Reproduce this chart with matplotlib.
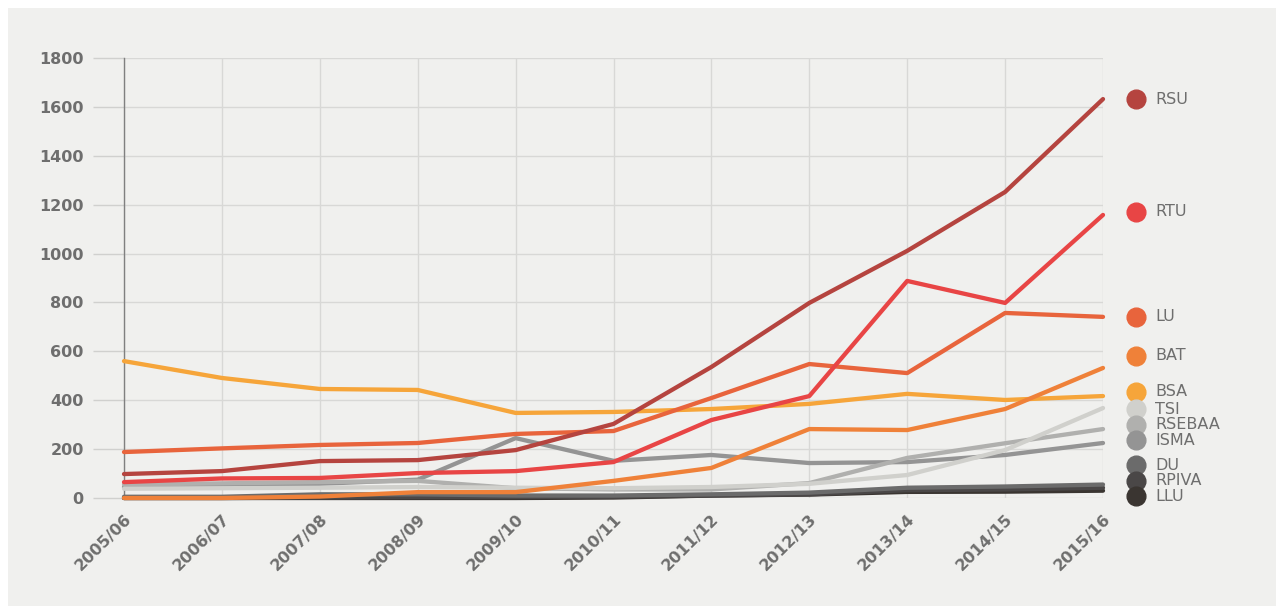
import matplotlib
matplotlib.use("Agg")
import matplotlib.pyplot as plt
from matplotlib.transforms import ScaledTranslation

years = ["2005/06", "2006/07", "2007/08", "2008/09", "2009/10", "2010/11",
         "2011/12", "2012/13", "2013/14", "2014/15", "2015/16"]

rsu    = [98, 110, 151, 155, 196, 303, 536, 798, 1011, 1252, 1632]
rtu    = [65, 80, 82, 102, 110, 147, 319, 417, 888, 798, 1158]
lu     = [188, 203, 217, 225, 262, 274, 409, 548, 511, 757, 741]
bat    = [0, 0, 6, 24, 24, 70, 123, 282, 278, 364, 532]
bsa    = [560, 491, 446, 442, 348, 352, 364, 385, 426, 401, 417]
tsi    = [38, 40, 42, 45, 42, 40, 45, 58, 94, 196, 368]
rsebaa = [55, 60, 65, 70, 40, 35, 35, 61, 164, 224, 282]
isma   = [45, 50, 58, 75, 245, 152, 176, 143, 147, 176, 225]
du     = [5, 5, 15, 15, 10, 10, 15, 22, 42, 47, 55]
rpiva  = [0, 0, 2, 4, 4, 5, 10, 15, 32, 35, 42]
llu    = [0, 0, 0, 0, 0, 2, 10, 14, 25, 26, 30]

names = ["RSU", "RTU", "LU", "BAT", "BSA", "TSI", "RSEBAA", "ISMA", "DU", "RPIVA", "LLU"]
series = [rsu, rtu, lu, bat, bsa, tsi, rsebaa, isma, du, rpiva, llu]
colors = ["#b5443f", "#e84545", "#e8643c", "#ef8139", "#f6a53a", "#d0d0cc",
          "#b0b0ae", "#949494", "#6b6b6b", "#4a4747", "#3a3531"]
label_y = [1632, 1170, 741, 581, 434, 364, 299, 237, 135, 70, 8]

plt.rcParams['font.family'] = ['DejaVu Sans']

fig = plt.figure(figsize=(12.82, 6.10), dpi=100)
fig.patch.set_facecolor("white")
bg = fig.add_axes([8/1282, 4/610, 1268/1282, 598/610], zorder=-5)
bg.set_facecolor("#f0f0ee")
bg.set_xticks([]); bg.set_yticks([])
for s in bg.spines.values():
    s.set_visible(False)

ax = fig.add_axes([124/1282, 112/610, 979/1282, 440/610], zorder=1)
ax.set_facecolor("none")

x = list(range(len(years)))
for i in reversed(range(len(series))):
    ax.plot(x, series[i], color=colors[i], lw=3.1, solid_capstyle="round",
            solid_joinstyle="round", zorder=3, clip_on=False)

ax.set_xlim(0, len(years) - 1)
ax.set_ylim(0, 1800)
ax.set_yticks(range(0, 1801, 200))
ax.set_xticks(x)
ax.set_xticklabels(years, rotation=45, ha="right", rotation_mode="anchor",
                   fontsize=11.5, fontweight="bold", color="#6e6e6e")
shift = ScaledTranslation(10/100, 4/100, fig.dpi_scale_trans)
for lab in ax.get_xticklabels():
    lab.set_transform(lab.get_transform() + shift)
for lab in ax.get_yticklabels():
    lab.set_fontsize(11.5)
    lab.set_fontweight("bold")
    lab.set_color("#6e6e6e")

ax.grid(True, color="#d8d8d6", lw=1, zorder=1)
ax.tick_params(axis="y", length=22, width=1, color="#d0d0ce", pad=7)
ax.tick_params(axis="x", length=0, pad=10)
for s in ["top", "right", "bottom"]:
    ax.spines[s].set_visible(False)
ax.spines["left"].set_color("#808080")
ax.spines["left"].set_linewidth(1)
ax.spines["left"].set_zorder(2)

# end labels with dots
for name, c, ly in zip(names, colors, label_y):
    ax.plot([10.34], [ly], "o", ms=13.5, color=c, clip_on=False, zorder=4)
    ax.text(10.53, ly, name, va="center", ha="left", fontsize=11.5,
            color="#6e6e6e", clip_on=False)

fig.savefig("out.png", dpi=100)
